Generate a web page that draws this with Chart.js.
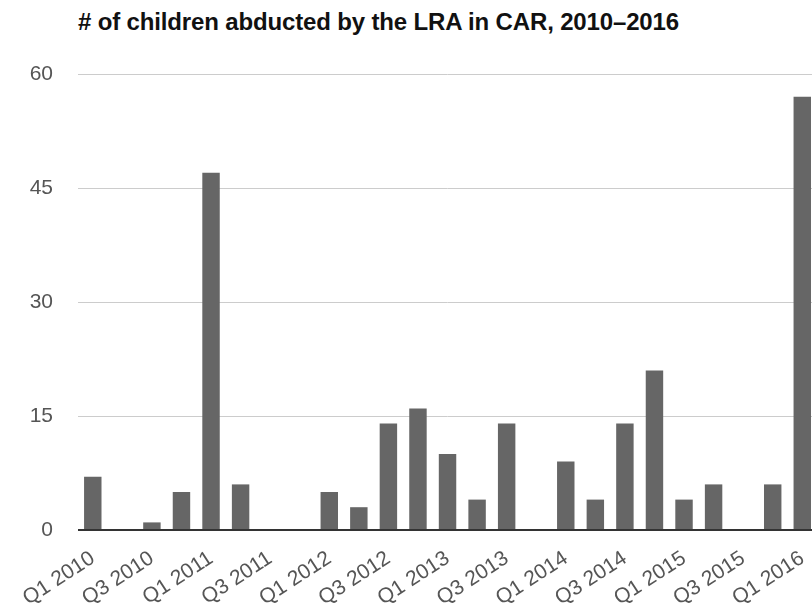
<!DOCTYPE html>
<html>
<head>
<meta charset="utf-8">
<script src="https://cdn.jsdelivr.net/npm/chart.js@4"></script>
<style>
  html, body { margin: 0; padding: 0; background: #fff; overflow: hidden; width: 812px; height: 611px; }
  #title {
    position: absolute; left: 78px; top: 8px;
    font: bold 24px "Liberation Sans", Arial, sans-serif; color: #111;
    letter-spacing: -0.15px; white-space: nowrap;
  }
  #wrap { position: absolute; left: 0; top: 0; width: 824px; height: 611px; }
</style>
</head>
<body>
<div id="title"># of children abducted by the LRA in CAR, 2010–2016</div>
<div id="wrap"><canvas id="chart"></canvas></div>
<script>
const quarters = [
  "Q1 2010", "Q2 2010", "Q3 2010", "Q4 2010",
  "Q1 2011", "Q2 2011", "Q3 2011", "Q4 2011",
  "Q1 2012", "Q2 2012", "Q3 2012", "Q4 2012",
  "Q1 2013", "Q2 2013", "Q3 2013", "Q4 2013",
  "Q1 2014", "Q2 2014", "Q3 2014", "Q4 2014",
  "Q1 2015", "Q2 2015", "Q3 2015", "Q4 2015",
  "Q1 2016"
];
const abducted = [7, 0, 1, 5, 47, 6, 0, 0, 5, 3, 14, 16, 10, 4, 14, 0, 9, 4, 14, 21, 4, 6, 0, 6, 57];
const yTicks = [0, 15, 30, 45, 60];

const tickFont = { family: "'Liberation Sans', Arial, sans-serif", size: 21 };

const ctx = document.getElementById("chart").getContext("2d");
new Chart(ctx, {
  type: "bar",
  data: {
    labels: quarters,
    datasets: [{
      label: "Children abducted",
      data: abducted,
      backgroundColor: "#666666",
      borderWidth: 0,
      barPercentage: 0.59,
      categoryPercentage: 1.0,
    }],
  },
  options: {
    responsive: true,
    maintainAspectRatio: false,
    animation: false,
    layout: { padding: { top: 74, right: 0, bottom: 0, left: 0 } },
    plugins: { legend: { display: false }, tooltip: { enabled: false } },
    scales: {
      x: {
        grid: { display: false },
        border: { display: false },
        ticks: {
          autoSkip: false,
          maxRotation: 33,
          minRotation: 33,
          padding: 8,
          color: "#555",
          font: tickFont,
          callback: (v, i) => (i % 2 === 0 ? quarters[i] : ""),
        },
        afterFit: (s) => { s.height = 81; },
      },
      y: {
        min: 0,
        max: 60,
        afterBuildTicks: (s) => { s.ticks = yTicks.map((v) => ({ value: v })); },
        grid: {
          drawTicks: false,
          color: (c) => (c.tick && c.tick.value === 0 ? "#333" : "#ccc"),
          lineWidth: (c) => (c.tick && c.tick.value === 0 ? 2 : 1),
        },
        border: { display: false },
        ticks: { padding: 25, color: "#555", font: tickFont },
        afterFit: (s) => { s.width = 78; },
      },
    },
  },
});
</script>
</body>
</html>
